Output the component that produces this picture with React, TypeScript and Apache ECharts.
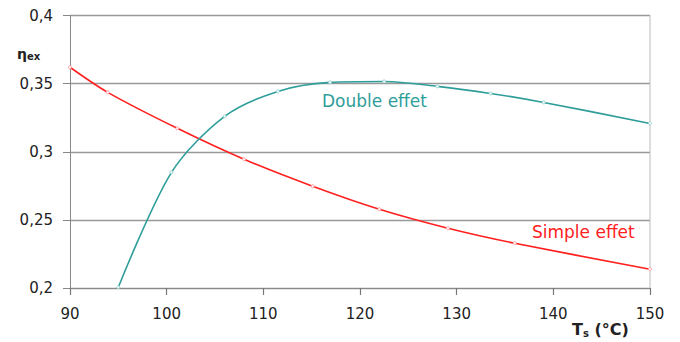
import React, { useEffect, useRef } from "react";
import * as echarts from "echarts";

const simpleEffet: [number, number][] = [
  [90, 0.362], [93.9, 0.3436], [101.1, 0.3172], [108, 0.2945], [115.1, 0.2747],
  [122, 0.2578], [129.1, 0.2439], [136, 0.2329], [150, 0.2138],
];
const doubleEffet: [number, number][] = [
  [95, 0.2006], [100.5, 0.2849], [106, 0.326], [111.5, 0.3443], [116.9, 0.3509],
  [122.5, 0.3516], [128, 0.348], [133.5, 0.3428], [139, 0.3362], [150, 0.3208],
];
const xTicks = [90, 100, 110, 120, 130, 140, 150];
const yTicks = [0.2, 0.25, 0.3, 0.35, 0.4];

const RED = "#ff2020";
const TEAL = "#2f9e9a";
const FONT = "DejaVu Sans";

export default function App() {
  const ref = useRef<HTMLDivElement>(null);
  useEffect(() => {
    if (!ref.current) return;
    const chart = echarts.init(ref.current, null, { renderer: "svg" });
    chart.setOption({
      animation: false,
      grid: { left: 62, right: 22, top: 7, bottom: 54, containLabel: false },
      xAxis: {
        type: "value",
        min: xTicks[0],
        max: xTicks[xTicks.length - 1],
        interval: 10,
        axisLine: { show: true, lineStyle: { color: "#888", width: 1 } },
        axisTick: { show: true, length: 7, lineStyle: { color: "#777", width: 1.2 } },
        axisLabel: { color: "#222", fontSize: 15, fontFamily: FONT, margin: 18 },
        splitLine: { show: false },
      },
      yAxis: {
        type: "value",
        min: yTicks[0],
        max: yTicks[yTicks.length - 1],
        interval: 0.05,
        axisLine: { show: true, lineStyle: { color: "#888", width: 1 } },
        axisTick: { show: true, length: 7, lineStyle: { color: "#888" } },
        axisLabel: {
          color: "#222",
          fontSize: 15,
          fontFamily: FONT,
          margin: 17,
          formatter: (v: number) => String(Math.round(v * 100) / 100).replace(".", ","),
        },
        splitLine: { show: true, lineStyle: { color: "#999", width: 1.3 } },
      },
      series: [
        {
          type: "line",
          data: simpleEffet,
          smooth: 0.3,
          symbol: "circle",
          symbolSize: 3,
          showSymbol: true,
          lineStyle: { color: RED, width: 1.6 },
          itemStyle: { color: "#fff", borderColor: "#ff9a9a", borderWidth: 1 },
          z: 3,
        },
        {
          type: "line",
          data: doubleEffet,
          smooth: 0.3,
          symbol: "circle",
          symbolSize: 3,
          showSymbol: true,
          lineStyle: { color: TEAL, width: 1.6 },
          itemStyle: { color: "#fff", borderColor: "#8fd0cc", borderWidth: 1 },
          z: 4,
        },
      ],
      graphic: [
        {
          type: "line",
          shape: { x1: 642, y1: 7, x2: 642, y2: 280 },
          style: { stroke: "#bbb", lineWidth: 1 },
          z: 1,
        },
        {
          type: "text",
          x: 314,
          y: 84,
          style: { text: "Double effet", fill: TEAL, font: `500 17px "${FONT}"` },
        },
        {
          type: "text",
          x: 524,
          y: 215,
          style: { text: "Simple effet", fill: RED, font: `500 17px "${FONT}"` },
        },
        {
          type: "text",
          x: 9,
          y: 38,
          style: {
            text: "{a|η}{b|ex}",
            rich: {
              a: { fontSize: 14, fontFamily: FONT, fill: "#222", fontWeight: "bold" },
              b: { fontSize: 10, fontFamily: FONT, fill: "#222", fontWeight: "bold", padding: [5, 0, 0, 0] },
            },
          },
        },
        {
          type: "text",
          x: 564,
          y: 313,
          style: {
            text: "{a|T}{b|s}{a| (°C)}",
            rich: {
              a: { fontSize: 16, fontFamily: FONT, fill: "#222", fontWeight: "bold" },
              b: { fontSize: 10, fontFamily: FONT, fill: "#222", fontWeight: "bold", padding: [7, 0, 0, 0] },
            },
          },
        },
      ],
    });
    return () => chart.dispose();
  }, []);
  return <div ref={ref} style={{ width: 664, height: 334 }} />;
}
